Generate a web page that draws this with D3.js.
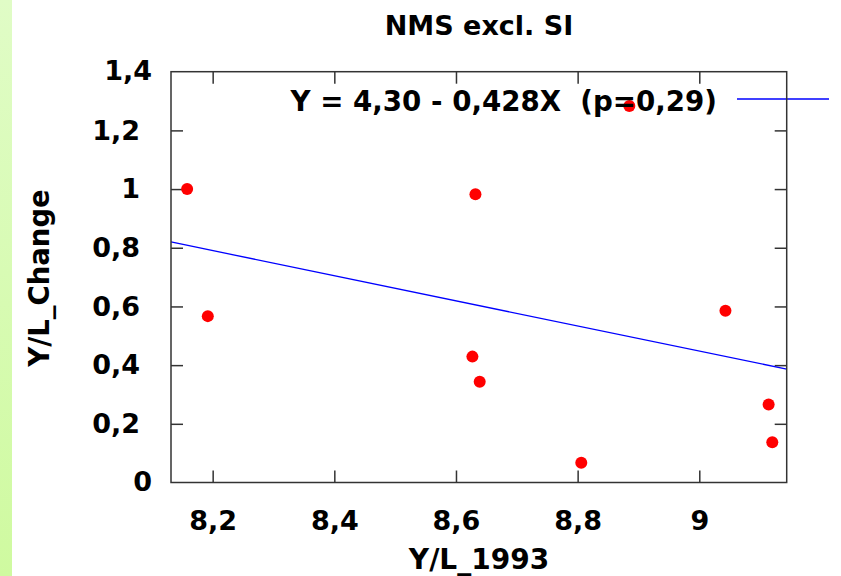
<!DOCTYPE html>
<html>
<head>
<meta charset="utf-8">
<script src="https://cdn.jsdelivr.net/npm/d3@7/dist/d3.min.js"></script>
<style>
  body { margin: 0; background: #fff; }
  svg text { font-family: Verdana, "DejaVu Sans", sans-serif; font-weight: bold; fill: #000; }
</style>
</head>
<body>
<div id="chart"></div>
<script>
// data
const xValues = [8.158, 8.192, 8.632, 8.627, 8.639, 8.806, 8.885, 9.043, 9.114, 9.120]
const yValues = [1.000, 0.567, 0.982, 0.429, 0.343, 0.067, 1.283, 0.585, 0.266, 0.137]
const xTicks = [8.2, 8.4, 8.6, 8.8, 9]
const yTicks = [0, 0.2, 0.4, 0.6, 0.8, 1, 1.2, 1.4]
const xDomain = [8.1315, 9.1437]
const yDomain = [0, 1.4]
const fitIntercept = 4.30, fitSlope = -0.428
const fitLabel = "Y = 4,30 - 0,428X  (p=0,29)"
const titleText = "NMS excl. SI"
const xLabel = "Y/L_1993", yLabel = "Y/L_Change"

const WIDTH = 841, HEIGHT = 576
const PLOT = { left: 171, right: 786.7, top: 71.7, bottom: 482.5 }
const TICK = 12

const fmt = d => String(d).replace(".", ",")

const svg = d3.select("#chart").append("svg")
    .attr("width", WIDTH)
    .attr("height", HEIGHT)

// green strip on the left
const grad = svg.append("defs").append("linearGradient")
    .attr("id", "strip").attr("x1", 0).attr("y1", 0).attr("x2", 0).attr("y2", 1)
grad.append("stop").attr("offset", "0%").attr("stop-color", "#e0fcc6")
grad.append("stop").attr("offset", "100%").attr("stop-color", "#cffaa0")
svg.append("rect").attr("x", 0).attr("y", 0).attr("width", 12).attr("height", HEIGHT)
    .attr("fill", "url(#strip)")

const x = d3.scaleLinear().domain(xDomain).range([PLOT.left, PLOT.right])
const y = d3.scaleLinear().domain(yDomain).range([PLOT.bottom, PLOT.top])

// title
svg.append("text")
    .attr("x", 479).attr("y", 35)
    .attr("text-anchor", "middle")
    .style("font-size", "27px")
    .text(titleText)

// axes (ticks inward, mirrored on top and right)
const axisStyle = g => {
    g.select(".domain").remove()
    g.selectAll(".tick line").attr("stroke", "#333").attr("stroke-width", 1.5)
    g.selectAll(".tick text").style("font-size", "27px").attr("fill", "#000")
}
svg.append("g")
    .attr("transform", `translate(0,${PLOT.bottom})`)
    .call(d3.axisBottom(x).tickValues(xTicks).tickFormat(fmt).tickSizeInner(-TICK).tickPadding(28))
    .call(axisStyle)
svg.append("g")
    .attr("transform", `translate(0,${PLOT.top})`)
    .call(d3.axisTop(x).tickValues(xTicks).tickFormat("").tickSizeInner(-TICK))
    .call(axisStyle)
svg.append("g")
    .attr("transform", `translate(${PLOT.left},0)`)
    .call(d3.axisLeft(y).tickValues(yTicks.filter(d => d > 0 && d < 1.4)).tickFormat(fmt).tickSizeInner(-TICK).tickPadding(31))
    .call(axisStyle)
svg.append("g")
    .attr("transform", `translate(${PLOT.right},0)`)
    .call(d3.axisRight(y).tickValues(yTicks.filter(d => d > 0 && d < 1.4)).tickFormat("").tickSizeInner(-TICK))
    .call(axisStyle)
// corner labels 0 and 1,4 (no tick marks there)
svg.append("g").selectAll("text")
    .data(yTicks.filter(d => d == 0 || d == 1.4))
    .join("text")
    .attr("x", PLOT.left - 19).attr("y", d => y(d)).attr("dy", "0.32em")
    .attr("text-anchor", "end")
    .style("font-size", "27px")
    .text(fmt)

// regression line
svg.append("line")
    .attr("x1", x(xDomain[0])).attr("y1", y(fitIntercept + fitSlope * xDomain[0]))
    .attr("x2", x(xDomain[1])).attr("y2", y(fitIntercept + fitSlope * xDomain[1]))
    .attr("stroke", "#0000ff").attr("stroke-width", 1.3)

// points
svg.append("g").selectAll("circle")
    .data(xValues.map((d, i) => [d, yValues[i]]))
    .join("circle")
    .attr("cx", d => x(d[0]))
    .attr("cy", d => y(d[1]))
    .attr("r", 6)
    .attr("fill", "#ff0000")

// legend
svg.append("line")
    .attr("x1", 737).attr("x2", 829).attr("y1", 99).attr("y2", 99)
    .attr("stroke", "#0000ff").attr("stroke-width", 1.3)
svg.append("text")
    .attr("x", 717).attr("y", 111)
    .attr("text-anchor", "end")
    .style("font-size", "27.7px")
    .style("white-space", "pre")
    .text(fitLabel)

// frame
svg.append("rect")
    .attr("x", PLOT.left).attr("y", PLOT.top)
    .attr("width", PLOT.right - PLOT.left).attr("height", PLOT.bottom - PLOT.top)
    .attr("fill", "none").attr("stroke", "#333").attr("stroke-width", 1.5)

// axis labels
svg.append("text")
    .attr("x", 479).attr("y", 569)
    .attr("text-anchor", "middle")
    .style("font-size", "28px")
    .text(xLabel)
svg.append("text")
    .attr("transform", `translate(49,278) rotate(-90)`)
    .attr("text-anchor", "middle")
    .style("font-size", "27.5px")
    .text(yLabel)
</script>
</body>
</html>
